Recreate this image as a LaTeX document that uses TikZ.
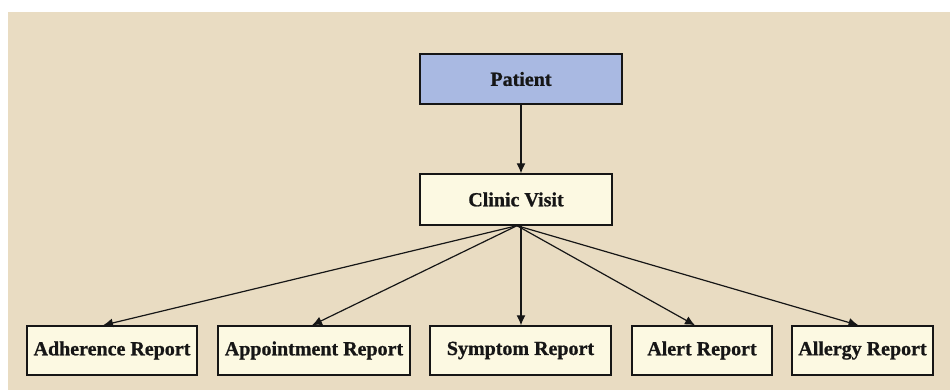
\documentclass[tikz,border=0pt]{standalone}
\usepackage{fontspec}
\setmainfont{Liberation Serif}
\newfontfamily\heavyserif{Liberation Serif Bold}[FakeBold=0.9]
\usetikzlibrary{arrows.meta}
\definecolor{paper}{HTML}{E9DCC2}
\definecolor{boxcream}{HTML}{FCF9E2}
\definecolor{boxblue}{HTML}{A9B9E2}
\definecolor{ink}{HTML}{161616}
\tikzset{
  entity/.style={draw=ink, line width=1.4pt, fill=boxcream, minimum height=49pt,
    inner sep=0pt, font=\fontsize{20}{23}\heavyserif, text=ink},
  link/.style={draw=ink, line width=1.2pt, -{Latex[length=10pt,width=9pt]}}
}
\begin{document}
\begin{tikzpicture}[x=1pt,y=-1pt]
  % page and parchment background
  \fill[white] (0,0) rectangle (950,390);
  \useasboundingbox (0,0) rectangle (950,390);
  \fill[paper] (8,12) rectangle (950,390);

  % top levels
  \node[entity, fill=boxblue, minimum width=202pt, minimum height=50pt] (patient) at (521,79) {Patient};
  \node[entity, minimum width=192pt, minimum height=51pt] (clinic) at (516,199.5) {Clinic Visit};

  % report boxes
  \node[entity, minimum width=170pt] (adh) at (112,350.5) {Adherence Report};
  \node[entity, minimum width=192pt] (app) at (314,350.5) {Appointment Report};
  \node[entity, minimum width=181pt] (sym) at (520.5,350.5) {Symptom Report};
  \node[entity, minimum width=140pt] (ale) at (702,350.5) {Alert Report};
  \node[entity, minimum width=141pt] (all) at (862.5,350.5) {Allergy Report};

  % connectors
  \draw[link] (patient.south) -- (patient.south |- clinic.north);
  \draw[link] ([xshift=1pt]clinic.south) -- ([xshift=-9pt]adh.north);
  \draw[link] ([xshift=1pt]clinic.south) -- ([xshift=-2pt]app.north);
  \draw[link] ([xshift=5pt]clinic.south) -- ([xshift=0.5pt]sym.north);
  \draw[link] ([xshift=1pt]clinic.south) -- ([xshift=-7pt]ale.north);
  \draw[link] ([xshift=1pt]clinic.south) -- ([xshift=-4pt]all.north);
\end{tikzpicture}
\end{document}
